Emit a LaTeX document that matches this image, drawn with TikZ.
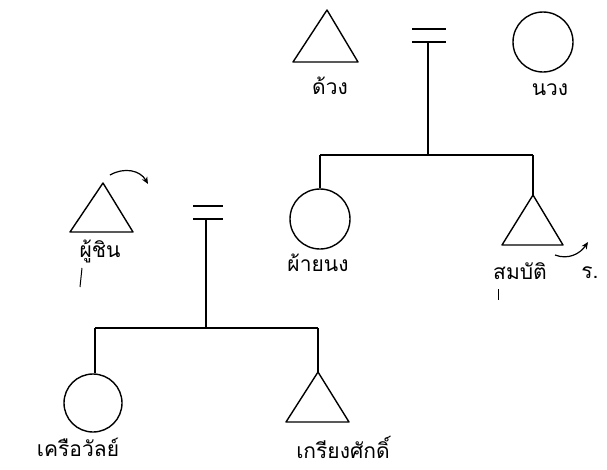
\documentclass[tikz,border=0pt]{standalone}
\usepackage{fontspec}
\newfontfamily\thai[Script=Thai]{Loma}
\usetikzlibrary{arrows.meta}
\begin{document}
\begin{tikzpicture}[x=1pt,y=-1pt,
  sym/.style={line width=1.4pt, line join=round},
  lnk/.style={line width=1.3pt},
  bar/.style={line width=1.5pt},
  lbl/.style={font=\thai\fontsize{21}{24}\selectfont, inner sep=0pt},
  fem/.style={circle, draw, line width=1.4pt, minimum size=60pt, inner sep=0pt},
  pointer/.style={line width=1.2pt, -{Stealth[length=7pt,width=6pt]}}]
\useasboundingbox[fill=white] (0,0) rectangle (607,469);

% ---------- generation 1 ----------
\coordinate (m1) at (327,10);
\draw[sym] (m1) -- ++(31,52) -- ++(-65,0) -- cycle;
\node[lbl] (m1l) at (330,86) {ด้วง};
\node[fem] (f1) at (543,42) {};
\node[lbl] (f1l) at (550,90) {นวง};
\draw[bar] (412,29) -- (446,29);
\draw[bar] (412,42) -- (446,42);
\coordinate (mar1) at (428,42);
\coordinate (s1) at (428,155);
\draw[lnk] (mar1) -- (s1);

% ---------- generation 2 ----------
\node[fem] (f2) at (320,219) {};
\node[lbl] (f2l) at (318,263) {ผ้ายนง};
\coordinate (m2) at (533,195);
\draw[sym] (m2) -- ++(30,50) -- ++(-61,0) -- cycle;
\node[lbl] (m2l) at (520,271) {สมบัติ};
\node[lbl] (m2r) at (590,273) {ร.};
\coordinate (s1a) at (320,155);
\coordinate (s1b) at (533,155);
\draw[lnk] (s1a) -- (s1b);
\draw[lnk] (s1a) -- (f2.north);
\draw[lnk] (s1b) -- (m2);

\coordinate (m3) at (103,183);
\draw[sym] (m3) -- ++(30,49) -- ++(-63,0) -- cycle;
\node[lbl] (m3l) at (100,251) {ผู้ชิน};
\draw[bar] (193,206) -- (223,206);
\draw[bar] (193,219) -- (223,219);
\coordinate (mar2) at (206,219);
\coordinate (s2) at (206,328);
\draw[lnk] (mar2) -- (s2);

% marks
\coordinate (a1) at (110,175);
\coordinate (a1e) at (148,184);
\draw[pointer] (a1) .. controls (124,167) and (140,170) .. (a1e);
\coordinate (a2) at (555,255);
\coordinate (a2e) at (588,242);
\draw[pointer] (a2) .. controls (568,260) and (580,254) .. (a2e);
\draw[line width=1pt] (82,268) -- (80,287);
\draw[line width=1pt] (498,289) -- (498,300);

% ---------- generation 3 ----------
\coordinate (s2a) at (95,328);
\coordinate (s2b) at (318,328);
\draw[lnk] (s2a) -- (s2b);
\node[fem, minimum size=58pt] (f3) at (93,403) {};
\node[lbl] (f3l) at (78,447) {เครือวัลย์};
\coordinate (m4) at (318,372);
\draw[sym] (m4) -- ++(31,50) -- ++(-63,0) -- cycle;
\node[lbl] (m4l) at (343,447) {เกรียงศักดิ์};
\draw[lnk] (s2a) -- (s2a |- f3.north);
\draw[lnk] (s2b) -- (m4);
\end{tikzpicture}
\end{document}
